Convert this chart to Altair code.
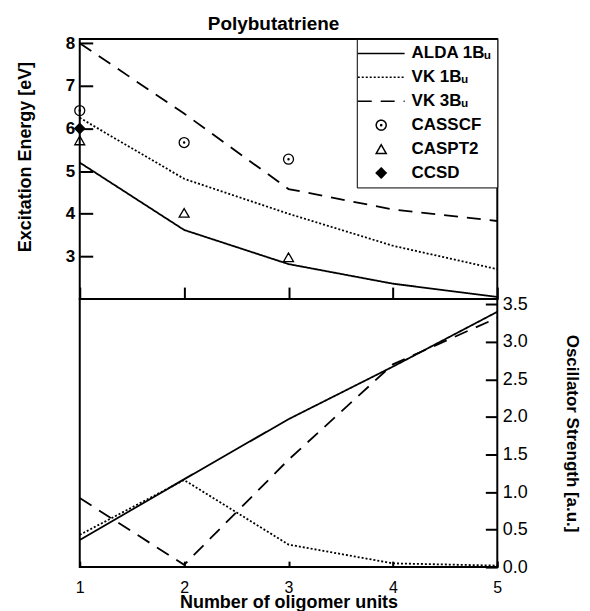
import altair as alt
import pandas as pd

FONT = "Liberation Sans"
LEGEND_FONT = "Liberation Sans, DejaVu Sans, Noto Sans"

# ---- data ----
units = [1, 2, 3, 4, 5]
series_names = ["ALDA 1Bᵤ", "VK 1Bᵤ", "VK 3Bᵤ", "CASSCF", "CASPT2", "CCSD"]

# excitation energies [eV]
alda_energy = [5.20, 3.62, 2.82, 2.36, 2.05]
vk1_energy = [6.25, 4.82, 4.00, 3.25, 2.70]
vk3_energy = [8.00, 6.35, 4.58, 4.10, 3.83]

casscf_units = [1, 2, 3]
casscf_energy = [6.42, 5.67, 5.28]
caspt2_units = [1, 2, 3]
caspt2_energy = [5.72, 4.02, 2.98]
ccsd_units = [1]
ccsd_energy = [6.00]

# oscillator strengths [a.u.]
alda_strength = [0.36, 1.17, 1.97, 2.67, 3.40]
vk1_strength = [0.43, 1.16, 0.30, 0.05, 0.02]
vk3_strength = [0.92, 0.03, 1.43, 2.70, 3.32]


def rows(name, xs, ys, col):
    return [{"series": name, "units": x, col: y} for x, y in zip(xs, ys)]


energy_lines = pd.DataFrame(
    rows(series_names[0], units, alda_energy, "energy")
    + rows(series_names[1], units, vk1_energy, "energy")
    + rows(series_names[2], units, vk3_energy, "energy")
)
energy_points = pd.DataFrame(
    rows(series_names[3], casscf_units, casscf_energy, "energy")
    + rows(series_names[4], caspt2_units, caspt2_energy, "energy")
    + rows(series_names[5], ccsd_units, ccsd_energy, "energy")
)
strength_lines = pd.DataFrame(
    rows(series_names[0], units, alda_strength, "strength")
    + rows(series_names[1], units, vk1_strength, "strength")
    + rows(series_names[2], units, vk3_strength, "strength")
)

# ---- styles ----
LINE_SYM = "M-4.7,0L4.7,0"
CIRCLE_DOT = ("M-1,0A1,1 0 1,0 1,0A1,1 0 1,0 -1,0Z"
              "M-0.12,0A0.12,0.12 0 1,0 0.12,0A0.12,0.12 0 1,0 -0.12,0Z")
DASHES = [[1, 0], [2, 2], [14, 9]]

dash_scale = alt.Scale(domain=series_names, range=DASHES + [[1, 0]] * 3)
shape_scale = alt.Scale(domain=series_names,
                        range=[LINE_SYM] * 3 + [CIRCLE_DOT, "triangle-up", "diamond"])
fill_scale = alt.Scale(domain=series_names, range=["transparent"] * 5 + ["black"])
stroke_scale = alt.Scale(domain=series_names, range=["black"] * 6)

legend = alt.Legend(
    title=None, orient="top-right", offset=0,
    strokeColor="black", fillColor="white", padding=6,
    labelFont=LEGEND_FONT, labelFontSize=17, labelFontWeight="bold",
    labelColor="black", labelLimit=200,
    symbolStrokeColor="black", symbolStrokeWidth=1.5, symbolSize=100,
    symbolOffset=10, labelOffset=22, rowPadding=6,
)

x_scale = alt.Scale(domain=[1, 5], nice=False, zero=False)

top_x_axis = alt.Axis(values=units, offset=-12, tickSize=12, tickWidth=2,
                      tickColor="black", labels=False, domain=False,
                      grid=False, title=None)
top_y_axis = alt.Axis(values=[3, 4, 5, 6, 7, 8], offset=-13, tickSize=13,
                      tickWidth=2, tickColor="black", domain=False, grid=False,
                      labelPadding=5, labelFont=FONT, labelFontSize=17,
                      labelFontWeight="bold", labelColor="black",
                      title="Excitation Energy [eV]", titleFont=FONT,
                      titleFontSize=18, titleFontWeight="bold",
                      titleColor="black", titlePadding=31, titleY=118)

lines_top = alt.Chart(energy_lines).mark_line(color="black", strokeWidth=1.8).encode(
    x=alt.X("units:Q", scale=x_scale, axis=top_x_axis),
    y=alt.Y("energy:Q", scale=alt.Scale(domain=[2, 8.1], nice=False, zero=False),
            axis=top_y_axis),
    strokeDash=alt.StrokeDash("series:N", scale=dash_scale, legend=legend),
    stroke=alt.Stroke("series:N", scale=stroke_scale, legend=legend),
)

points_top = alt.Chart(energy_points).mark_point(
    color="black", size=100, strokeWidth=1.3, opacity=1
).encode(
    x=alt.X("units:Q"),
    y=alt.Y("energy:Q"),
    shape=alt.Shape("series:N", scale=shape_scale, legend=legend),
    fill=alt.Fill("series:N", scale=fill_scale, legend=legend),
    stroke=alt.Stroke("series:N", scale=stroke_scale, legend=legend),
)

top = alt.layer(lines_top, points_top).properties(
    width=419, height=261,
    title=alt.TitleParams("Polybutatriene", font=FONT, fontSize=19,
                          fontWeight="bold", color="black", anchor="middle",
                          dx=-15, offset=0),
)

bottom_x_axis = alt.Axis(values=units, format="d", offset=-6, tickSize=6,
                         tickWidth=2, tickColor="black", domain=False,
                         grid=False, labelFlush=False, labelPadding=12,
                         labelFont=FONT, labelFontSize=16, labelColor="black",
                         title="Number of oligomer units", titleFont=FONT,
                         titleFontSize=18, titleFontWeight="bold",
                         titleColor="black", titlePadding=-1)
bottom_y_axis = alt.Axis(orient="right",
                         values=[0, 0.5, 1.0, 1.5, 2.0, 2.5, 3.0, 3.5],
                         format=".1f", offset=-12, tickSize=12, tickWidth=2,
                         tickColor="black", domain=False, grid=False,
                         labelPadding=5, labelFont=FONT, labelFontSize=18,
                         labelColor="black",
                         title="Oscillator Strength [a.u.]", titleFont=FONT,
                         titleFontSize=17, titleFontWeight="bold",
                         titleColor="black", titlePadding=35)

bottom = alt.Chart(strength_lines).mark_line(color="black", strokeWidth=1.8).encode(
    x=alt.X("units:Q", scale=x_scale, axis=bottom_x_axis),
    y=alt.Y("strength:Q", scale=alt.Scale(domain=[0, 3.57], nice=False),
            axis=bottom_y_axis),
    strokeDash=alt.StrokeDash(
        "series:N",
        scale=alt.Scale(domain=series_names[:3], range=DASHES),
        legend=None,
    ),
).properties(width=419, height=269)

chart = (
    alt.vconcat(top, bottom, spacing=0, bounds="flush",
                padding={"left": 7, "top": 5, "right": 0, "bottom": 0})
    .resolve_scale(y="independent", strokeDash="independent",
                   shape="independent", fill="independent",
                   stroke="independent")
    .configure(background="white")
    .configure_view(stroke="black", strokeWidth=2)
)

chart.save("out.html", embed_options={"renderer": "svg", "actions": False})
